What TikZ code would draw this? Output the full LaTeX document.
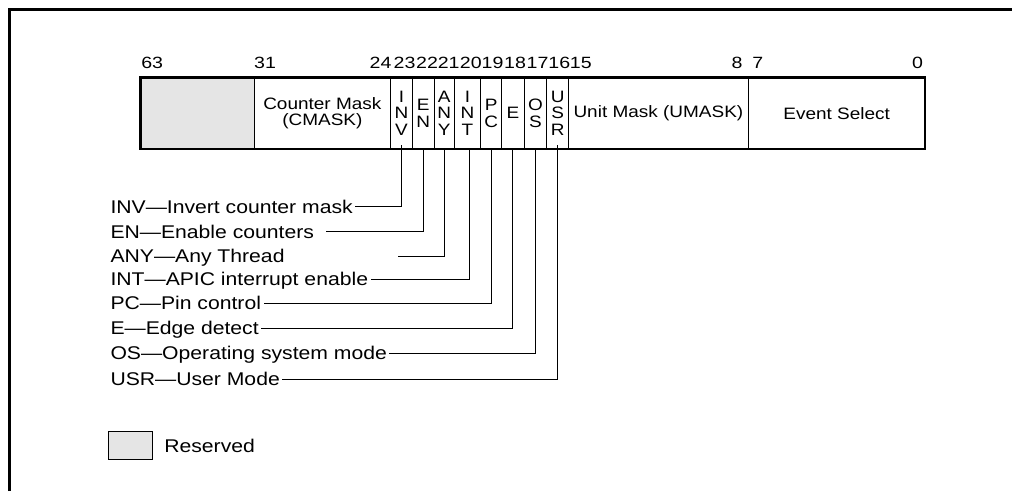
\documentclass[tikz,border=0pt]{standalone}
\usepackage{fontspec}
\setmainfont[FakeStretch=1.15]{Liberation Sans}
\newfontfamily\bitfont[FakeStretch=1.2]{Liberation Sans}
\usepackage{tikz}
\usetikzlibrary{positioning}

\begin{document}
\begin{tikzpicture}[
    x=1pt, y=-1pt,
    field/.style={draw, line width=1pt, minimum height=71.7pt, inner sep=0pt, outer sep=0pt,
                  align=center, font=\fontsize{16.5}{16.7}\selectfont},
    bitnum/.style={inner sep=0pt, font=\bitfont\fontsize{16.3}{18}\selectfont},
    flag/.style={anchor=west, inner xsep=2pt, inner ysep=0pt, text height=13.2pt, text depth=0pt,
                 font=\fontsize{18.4}{20}\selectfont},
    line width=1pt, draw=black
]
\useasboundingbox (0,0) rectangle (1012,491);
% Frame
\draw[line width=2.7pt] (9.5,491) |- (1012,9.5);

% Fields
\node[field, fill=black!10, minimum width=113.3pt] (rsv) at (197.35,113.2) {};
\node[field, minimum width=136.7pt, right=0pt of rsv] (cmask) {Counter Mask\\(CMASK)};
\node[field, minimum width=21.6pt, right=0pt of cmask] (inv) {I\\N\\V};
\node[field, minimum width=22pt, right=0pt of inv] (en) {E\\N};
\node[field, minimum width=20pt, right=0pt of en] (any) {A\\N\\Y};
\node[field, minimum width=26.2pt, right=0pt of any] (int) {I\\N\\T};
\node[field, minimum width=21.2pt, right=0pt of int] (pc) {P\\C};
\node[field, minimum width=22.5pt, right=0pt of pc] (e) {E};
\node[field, minimum width=22.5pt, right=0pt of e] (os) {O\\S};
\node[field, minimum width=21.8pt, right=0pt of os] (usr) {U\\S\\R};
\node[field, minimum width=179.8pt, right=0pt of usr] (umask) {Unit Mask (UMASK)};
\node[field, minimum width=176.7pt, right=0pt of umask] (evt) {Event Select};
\draw[line width=2.7pt] (rsv.north west) rectangle (evt.south east);

% Bit numbers
\node[bitnum] (n63) at (152.2,62.5) {63};
\node[bitnum] (n31) at (265,62.5) {31};
\node[bitnum] (n24) at (380.5,62.5) {24};
\node[bitnum] (n23) at (404.5,62.5) {23};
\node[bitnum] (n22) at (427,62.5) {22};
\node[bitnum] (n21) at (448.7,62.5) {21};
\node[bitnum] (n20) at (470.8,62.5) {20};
\node[bitnum] (n19) at (492.5,62.5) {19};
\node[bitnum] (n18) at (515,62.5) {18};
\node[bitnum] (n17) at (537.5,62.5) {17};
\node[bitnum] (n16) at (559.3,62.5) {16};
\node[bitnum] (n15) at (580.8,62.5) {15};
\node[bitnum] (n8) at (737,62.5) {8};
\node[bitnum] (n7) at (757.8,62.5) {7};
\node[bitnum] (n0) at (917.5,62.5) {0};

% Flag labels
\node[flag] (linv) at (108,206.7) {INV—Invert counter mask};
\node[flag] (len) at (108,231.7) {EN—Enable counters};
\node[flag] (lany) at (108,256) {ANY—Any Thread};
\node[flag] (lint) at (108,279.3) {INT—APIC interrupt enable};
\node[flag] (lpc) at (108,303.3) {PC—Pin control};
\node[flag] (le) at (108,328.3) {E—Edge detect};
\node[flag] (los) at (108,353.3) {OS—Operating system mode};
\node[flag] (lusr) at (108,379.3) {USR—User Mode};
\coordinate (enend) at (326,231.7);
\coordinate (anyend) at (397.7,256);

\draw ([yshift=4pt]inv.south) |- (linv.east);
\draw (en.south) |- (enend);
\draw (any.south) |- (anyend);
\draw ([xshift=2pt]int.south) |- (lint.east);
\draw (pc.south) |- (lpc.east);
\draw (e.south) |- (le.east);
\draw (os.south) |- (los.east);
\draw ([yshift=4pt]usr.south) |- (lusr.east);

% Legend
\node[draw, fill=black!10, line width=1.3pt, minimum width=44.4pt, minimum height=27.6pt, inner sep=0pt] (key) at (130.5,445.5) {};
\node[right=10.5pt of key, inner sep=0pt, font=\fontsize{18.4}{20}\selectfont] (keytext) {Reserved};
\end{tikzpicture}
\end{document}
